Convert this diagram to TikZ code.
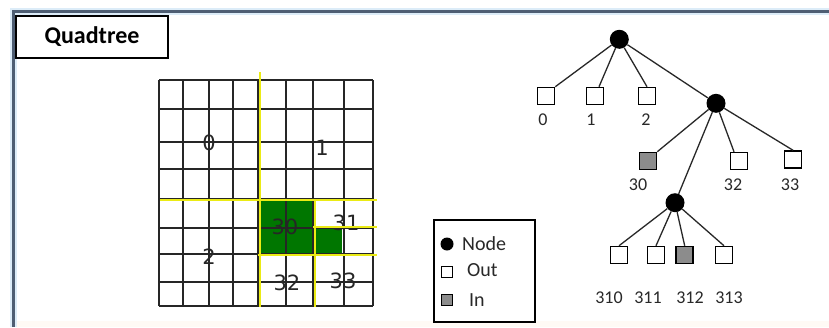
\documentclass[tikz,border=0pt]{standalone}
\usepackage{fontspec}
\setmainfont{Carlito}
\newfontfamily\gridfont{DejaVu Sans}
\definecolor{framecol}{RGB}{78,94,115}
\definecolor{haze}{RGB}{220,236,248}
\definecolor{grn}{RGB}{0,118,0}
\definecolor{ylw}{RGB}{235,235,20}
\definecolor{ink}{RGB}{40,40,40}
\begin{document}
\begin{tikzpicture}[x=1pt,y=-1pt,
  leaf/.style={draw=black, line width=1.5pt, fill=white, minimum size=17pt, inner sep=0pt},
  inleaf/.style={leaf, fill=black!45},
  knot/.style={circle, fill=black, minimum size=19pt, inner sep=0pt},
  edge/.style={draw=ink, line width=1.3pt},
  lbl/.style={font=\fontsize{18}{20}\selectfont, text=ink, inner sep=0pt},
  glbl/.style={font=\gridfont\fontsize{21}{23}\selectfont, text=black!85, inner sep=0pt},
  gline/.style={draw=black!85, line width=1.7pt},
  yline/.style={draw=ylw, line width=2pt},
  legtext/.style={font=\fontsize{20}{22}\selectfont, text=ink, anchor=west, inner sep=0pt},
  legsq/.style={draw=black, line width=1.2pt, minimum size=11pt, inner sep=0pt}
]
\useasboundingbox (0,0) rectangle (829,327);
\fill[white] (0,0) rectangle (829,327);
\fill[orange!4] (14,321) rectangle (829,327);
% frame
\draw[haze, line width=7pt] (13,327) -- (13,11) -- (829,11);
\draw[framecol, line width=3pt] (13,327) -- (13,11) -- (829,11);
% title
\node[draw=black, line width=1.4pt, minimum width=152pt, minimum height=42pt, inner sep=0pt,
      font=\bfseries\fontsize{24}{26}\selectfont] (title) at (92,37) {Quadtree};
% grid: green cells
\fill[grn] (258.3,198.7) rectangle (313.3,254);
\fill[grn] (313.3,228.3) rectangle (342,254);
% grid labels
\node[glbl] (g0) at (209,143) {0};
\node[glbl] (g1) at (322,148) {1};
\node[glbl] (g30) at (285,227) {30};
\node[glbl] (g31) at (346,223) {31};
\node[glbl] (g2) at (209,257) {2};
\node[glbl] (g32) at (287,283) {32};
\node[glbl] (g33) at (343,281) {33};
% grid lines
\foreach \x in {159,183.3,209.3,233.3,258.3,286,313.3,344,373.3}
  \draw[gline] (\x,80) -- (\x,306);
\foreach \y in {80,109.3,141.7,169.3,198.7,228.3,254,281.7,306}
  \draw[gline] (159,\y) -- (373.3,\y);
% yellow quadrant lines
\draw[yline] (259.5,72) -- (259.5,307);
\draw[yline] (160,199.7) -- (377,199.7);
\draw[yline] (314.5,199.7) -- (314.5,307);
\draw[yline] (258.3,255) -- (377,255);
\draw[yline] (313.3,227.3) -- (377,227.3);
% legend
\node[draw=black, line width=1.4pt, minimum width=101pt, minimum height=102pt, inner sep=0pt] (legend) at (484.5,271) {};
\node[circle, fill=black, minimum size=13pt, inner sep=0pt] (lgnode) at (447,244) {};
\node[legtext] (lgnodet) at (462,244) {Node};
\node[legsq, fill=white] (lgout) at (447,272) {};
\node[legtext] (lgoutt) at (467,270) {Out};
\node[legsq, fill=black!45] (lgin) at (447,300) {};
\node[legtext] (lgint) at (469,300) {In};
% tree
\node[knot] (root) at (619.3,39.3) {};
\node[leaf] (l0) at (546,96) {};
\node[leaf] (l1) at (595,96) {};
\node[leaf] (l2) at (647,96) {};
\node[knot] (n3) at (716,103.3) {};
\node[inleaf] (l30) at (648,161) {};
\node[leaf] (l32) at (739,161) {};
\node[leaf] (l33) at (793,159.5) {};
\node[knot] (n31) at (675,202.7) {};
\node[leaf] (l310) at (619,255) {};
\node[leaf] (l311) at (656,255) {};
\node[inleaf] (l312) at (684.7,255) {};
\node[leaf] (l313) at (724,255) {};
\draw[edge] (root) -- (l0.north east);
\draw[edge] (root) -- ([xshift=4pt]l1.north);
\draw[edge] (root) -- (l2.north);
\draw[edge] (root) -- (n3);
\draw[edge] (n3) -- (l30.north east);
\draw[edge] (n3) -- ([xshift=-5pt]l32.north);
\draw[edge] (n3) -- (l33.north);
\draw[edge] (n3) -- (n31);
\draw[edge] (n31) -- (l310.north);
\draw[edge] (n31) -- (l311.north);
\draw[edge] (n31) -- (l312.north);
\draw[edge] (n31) -- (l313.north);
% tree labels
\node[lbl] (t0) at (543,120) {0};
\node[lbl] (t1) at (591,120) {1};
\node[lbl] (t2) at (646,120) {2};
\node[lbl] (t30) at (638,185) {30};
\node[lbl] (t32) at (733,185) {32};
\node[lbl] (t33) at (790,185) {33};
\node[lbl] (t310) at (609,298) {310};
\node[lbl] (t311) at (648,298) {311};
\node[lbl] (t312) at (690,298) {312};
\node[lbl] (t313) at (729,298) {313};
\end{tikzpicture}
\end{document}
